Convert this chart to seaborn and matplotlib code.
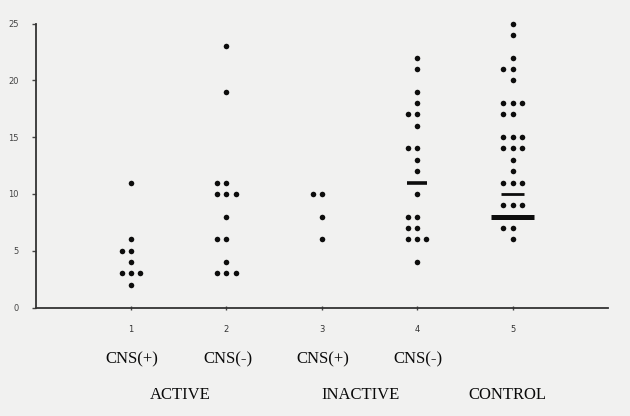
import numpy as np
import pandas as pd
import seaborn as sns
import matplotlib.pyplot as plt
from matplotlib.transforms import blended_transform_factory

# ---- data ----
groups = [1, 2, 3, 4, 5]
tick_labels = ['1', '2', '3', '4', '5']
cns_labels = ['CNS(+)', 'CNS(-)', 'CNS(+)', 'CNS(-)']
status_labels = ['ACTIVE', 'INACTIVE', 'CONTROL']

group1 = [11, 6, 5, 5, 4, 3, 3, 3, 2]
group2 = [23, 19, 11, 11, 10, 10, 10, 8, 6, 6, 4, 3, 3, 3]
group3 = [10, 10, 8, 6]
group4 = [22, 21, 19, 18, 17, 17, 16, 14, 14, 13, 12, 10, 8, 8, 7, 7, 6, 6, 6, 4]
group5 = [25, 24, 22, 21, 21, 20, 18, 18, 18, 17, 17, 15, 15, 15, 14, 14, 14,
          13, 12, 11, 11, 11, 9, 9, 9, 7, 7, 6]

# horizontal bars (median / merged marks)
bar_groups = [4, 5, 5]
bar_values = [11, 10, 8]

# ---- build table ----
rows = []
for g, vals in zip(groups, [group1, group2, group3, group4, group5]):
    counts = {}
    for v in vals:
        k = counts.get(v, 0)
        counts[v] = k + 1
        rows.append(dict(group=g, value=v, slot=k))
df = pd.DataFrame(rows)
slot_offset = {0: 0.0, 1: -0.096, 2: 0.096}
df['xpos'] = df['group'] + df['slot'].map(slot_offset)

sns.set_theme(style='ticks')
plt.rcParams['font.family'] = ['DejaVu Sans']

fig = plt.figure(figsize=(6.3, 4.16), dpi=100)
fig.patch.set_facecolor('#f1f1f0')
ax = fig.add_axes([0.0567, 0.2608, 0.9084, 0.6827])
ax.set_facecolor('none')

sns.scatterplot(data=df, x='xpos', y='value', ax=ax, color='#0d0d0d', s=16,
                marker='o', linewidth=0, clip_on=False, legend=False)

bar_halfwidths = [0.105, 0.117, 0.222]
bar_lw = [2.6, 2.0, 3.6]
for g, v, hw, lw in zip(bar_groups, bar_values, bar_halfwidths, bar_lw):
    ax.hlines(v, g - hw, g + hw, colors='#0d0d0d', linewidth=lw, clip_on=False)

ax.set_xlim(0, 6)
ax.set_ylim(0, 25)
ax.set_xticks(groups)
ax.set_xticklabels(tick_labels)
ax.set_yticks([0, 5, 10, 15, 20, 25])
ax.set_xlabel('')
ax.set_ylabel('')
for side in ['top', 'right']:
    ax.spines[side].set_visible(False)
for side in ['left', 'bottom']:
    ax.spines[side].set_linewidth(1.3)
    ax.spines[side].set_color('#333333')
ax.tick_params(axis='y', direction='out', length=3, width=1, color='#444',
               labelsize=6, labelcolor='#444', pad=9)
ax.tick_params(axis='x', direction='inout', length=3, width=1, color='#444',
               labelsize=6, labelcolor='#333', pad=11)

trans = blended_transform_factory(ax.transData, fig.transFigure)
for g, lab in zip(groups[:4], cns_labels):
    ax.text(g + 0.01, 0.137, lab, transform=trans, ha='center', va='center',
            fontsize=12, family='Liberation Serif', color='#0a0a0a')
for x, lab in zip([1.52, 3.41, 4.945], status_labels):
    ax.text(x, 0.051, lab, transform=trans, ha='center', va='center',
            fontsize=12, family='Liberation Serif', color='#0a0a0a')

fig.savefig('out.png', dpi=100, facecolor=fig.get_facecolor())
